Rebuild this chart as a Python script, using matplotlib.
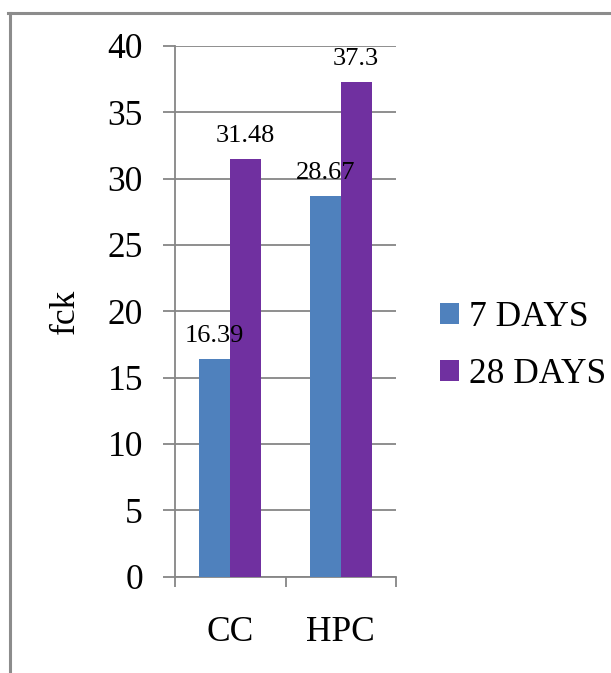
import matplotlib
matplotlib.use("Agg")
import matplotlib.pyplot as plt
from matplotlib.lines import Line2D
from matplotlib.patches import Patch
import numpy as np

categories = ["CC", "HPC"]
series_names = ["7 DAYS", "28 DAYS"]
days7 = [16.39, 28.67]
days28 = [31.48, 37.3]
y_ticks = [0, 5, 10, 15, 20, 25, 30, 35, 40]

colors = ["#4F81BD", "#7030A0"]
axis_gray = "#868686"
font = "Liberation Serif"

W, H = 611, 673
fig = plt.figure(figsize=(W / 100, H / 100), dpi=100)

# plot area in pixel coordinates
left, right, top, bottom = 175, 396, 46, 576.5
ax = fig.add_axes([left / W, 1 - bottom / H, (right - left) / W, (bottom - top) / H])

x = np.arange(len(categories))
bw = 0.28
for i, (vals, name) in enumerate([(days7, series_names[0]), (days28, series_names[1])]):
    offs = (i - 0.5) * bw
    ax.bar(x + offs, vals, width=bw, color=colors[i], label=name, zorder=3)
    for xi, v in zip(x + offs, vals):
        ax.annotate(f"{v:g}", (xi, v), xytext=(0, 8.5), textcoords="offset points",
                    ha="center", va="bottom", fontsize=19, family=font, zorder=4)

ax.set_xlim(-0.5, 1.5)
ax.set_ylim(0, 40)
ax.set_yticks(y_ticks)
ax.set_xticks([-0.5, 0.5, 1.5])
ax.set_xticklabels([])
ax.set_xticks(x, minor=True)
ax.set_xticklabels(categories, minor=True, fontsize=25.5, family=font)
ax.tick_params(axis="x", which="minor", length=0, pad=28.5)
ax.tick_params(axis="x", which="major", length=7.5, width=1.3, color=axis_gray, direction="out")
ax.tick_params(axis="y", length=8.5, width=1.3, color=axis_gray, direction="out", pad=14.5,
               labelsize=25.5)
for lbl in ax.get_yticklabels():
    lbl.set_family(font)

ax.yaxis.grid(True, color=axis_gray, linewidth=1.3, zorder=0)
ax.set_axisbelow(True)
for s in ["top", "right"]:
    ax.spines[s].set_visible(False)
for s in ["left", "bottom"]:
    ax.spines[s].set_color(axis_gray)
    ax.spines[s].set_linewidth(1.3)

fig.text(65 / W, 1 - 311 / H, "fck", rotation=90, ha="center", va="center",
         fontsize=25.5, family=font)

handles = [Patch(facecolor=c, edgecolor="none") for c in colors]
fig.legend(handles, series_names, loc="center left", bbox_to_anchor=(440 / W, 1 - 346 / H),
           frameon=False, borderpad=0, borderaxespad=0, handlelength=0.55, handleheight=0.55,
           handletextpad=0.27, labelspacing=0.68, prop={"family": font, "size": 25.5})

# outer frame: left and top edges
frame_col = "#8C8C8C"
fig.add_artist(Line2D([9.5 / W, 9.5 / W], [0, 1 - 13 / H], color=frame_col, linewidth=2.2,
                      transform=fig.transFigure))
fig.add_artist(Line2D([8.4 / W, 1], [1 - 13 / H, 1 - 13 / H], color=frame_col, linewidth=2.2,
                      transform=fig.transFigure))

fig.savefig("out.png", dpi=100, facecolor="white")
